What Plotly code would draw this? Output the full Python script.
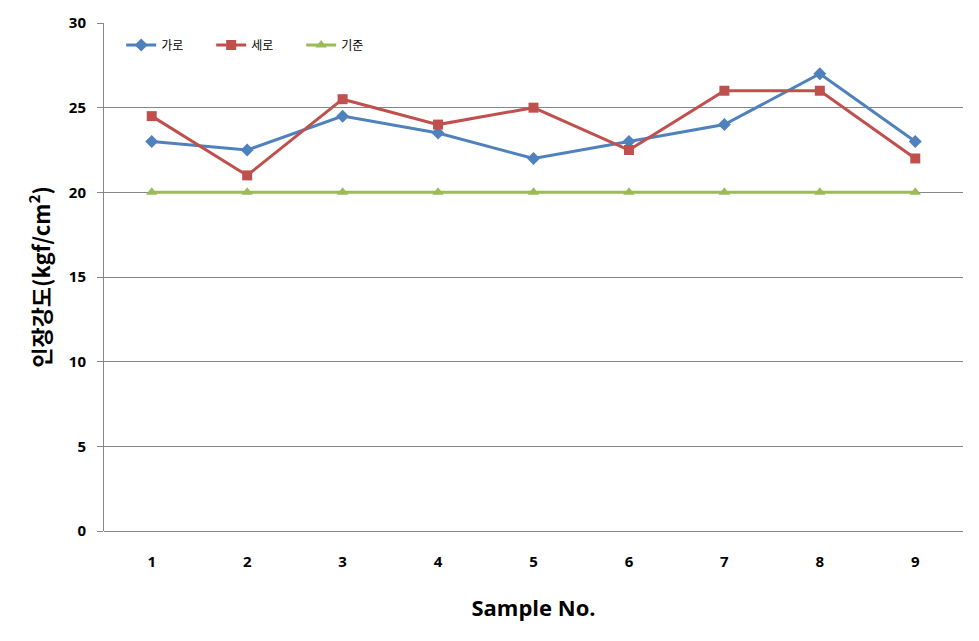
import plotly.graph_objects as go

samples = ["1", "2", "3", "4", "5", "6", "7", "8", "9"]
garo = [23, 22.5, 24.5, 23.5, 22, 23, 24, 27, 23]
sero = [24.5, 21, 25.5, 24, 25, 22.5, 26, 26, 22]
gijun = [20, 20, 20, 20, 20, 20, 20, 20, 20]

fig = go.Figure()
fig.add_trace(go.Scatter(x=samples, y=garo, name="가로", mode="lines+markers",
                         line=dict(color="#4F81BD", width=3),
                         marker=dict(symbol="diamond", size=10, color="#4F81BD")))
fig.add_trace(go.Scatter(x=samples, y=sero, name="세로", mode="lines+markers",
                         line=dict(color="#C0504D", width=3),
                         marker=dict(symbol="square", size=10, color="#C0504D")))
fig.add_trace(go.Scatter(x=samples, y=gijun, name="기준", mode="lines+markers",
                         line=dict(color="#9BBB59", width=3),
                         marker=dict(symbol="triangle-up", size=10, color="#9BBB59")))

fig.update_layout(
    width=979, height=641,
    margin=dict(l=104, r=16, t=19, b=110),
    paper_bgcolor="white", plot_bgcolor="white",
    font=dict(family="Noto Sans CJK KR, Open Sans, sans-serif", color="black"),
    showlegend=True,
    legend=dict(orientation="h", x=0.02, y=0.985, xanchor="left", yanchor="top",
                font=dict(size=12), bgcolor="rgba(0,0,0,0)",
                entrywidth=45, itemwidth=30),
    xaxis=dict(type="category", range=[-0.5, 8.5], showgrid=False,
               showline=False, ticks="", zeroline=False,
               ticklabelstandoff=20,
               tickfont=dict(size=15, family="Open Sans", weight="bold"),
               title=dict(text="Sample No.", font=dict(size=22, weight="bold", family="Open Sans"),
                          standoff=30)),
    yaxis=dict(range=[0, 30], dtick=5, showgrid=True, gridcolor="#868686", gridwidth=1,
               showline=True, linecolor="#868686", linewidth=1,
               ticks="outside", ticklen=6, tickcolor="#868686",
               ticklabelstandoff=8,
               zeroline=True, zerolinecolor="#868686", zerolinewidth=1,
               tickfont=dict(size=15, family="Open Sans", weight="bold"),
               title=dict(text="인장강도(kgf/cm<sup>2</sup>)", font=dict(size=22, weight="bold"),
                          standoff=12)),
)

fig.write_html("out.html")
